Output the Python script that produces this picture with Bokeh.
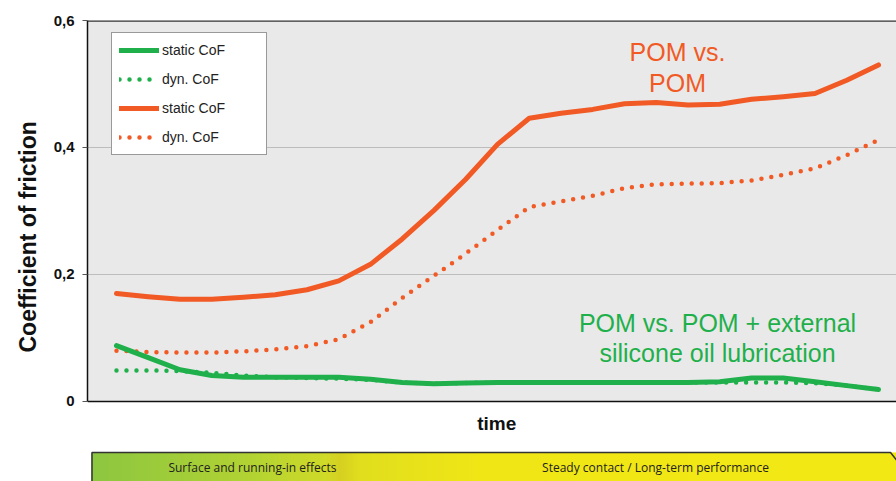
from bokeh.plotting import figure
from bokeh.models import Range1d, FixedTicker, Legend, LegendItem, Span, Label, Title
from bokeh.embed import file_html
from bokeh.resources import INLINE

# ---- data ----
time_points = list(range(25))
pom_static = [0.170, 0.165, 0.161, 0.161, 0.164, 0.168, 0.176, 0.190, 0.216, 0.256,
              0.301, 0.350, 0.405, 0.446, 0.454, 0.460, 0.469, 0.471, 0.467, 0.468,
              0.476, 0.480, 0.485, 0.506, 0.530]
pom_dynamic = [0.080, 0.078, 0.077, 0.077, 0.079, 0.082, 0.087, 0.098, 0.125, 0.163,
               0.198, 0.233, 0.270, 0.306, 0.315, 0.324, 0.336, 0.342, 0.343, 0.344,
               0.348, 0.357, 0.367, 0.388, 0.412]
lub_static = [0.088, 0.069, 0.050, 0.041, 0.038, 0.038, 0.038, 0.038, 0.035, 0.030,
              0.028, 0.029, 0.030, 0.030, 0.030, 0.030, 0.030, 0.030, 0.030, 0.031,
              0.037, 0.037, 0.031, 0.025, 0.019]
lub_dynamic = [0.049, 0.049, 0.048, 0.045, 0.041, 0.038, 0.037, 0.036, 0.034, 0.030,
               0.028, 0.029, 0.030, 0.030, 0.030, 0.030, 0.030, 0.030, 0.030, 0.030,
               0.030, 0.030, 0.029, 0.025, 0.019]
y_ticks = [0, 0.2, 0.4, 0.6]
y_tick_labels = ["0", "0,2", "0,4", "0,6"]
series_labels = ["static CoF", "dyn. CoF", "static CoF", "dyn. CoF"]
pom_label = ["POM vs.", "POM"]
lub_label = ["POM vs. POM + external", "silicone oil lubrication"]
phase_labels = ["Surface and running-in effects", "Steady contact / Long-term performance"]
x_label = "time"
y_label = "Coefficient  of friction"

ORANGE = "#f15a24"
GREEN = "#1fb04b"
FONT = "Liberation Sans"

X0, X1 = -0.913, 24.567
Y0, Y1 = -0.126, 0.6
p = figure(width=896, height=481, output_backend="svg", toolbar_location=None,
           x_range=Range1d(X0, X1), y_range=Range1d(Y0, Y1), x_axis_type=None,
           min_border_left=87, min_border_top=20, min_border_bottom=0, min_border_right=0)
p.background_fill_color = "white"
p.border_fill_color = "white"
p.outline_line_color = None
p.xgrid.grid_line_color = None
p.ygrid.grid_line_color = "#bdbdbd"
p.ygrid.grid_line_width = 1.2
p.ygrid.ticker = FixedTicker(ticks=y_ticks)
p.ygrid.bounds = (0, 0.6)

# grey plotting area (drawn beneath the grid)
p.quad(left=X0, right=X1, bottom=0, top=0.6, fill_color="#e9e9ea", line_color=None,
       level="image")

# y axis
p.yaxis.ticker = FixedTicker(ticks=y_ticks)
p.yaxis.bounds = (0, 0.6)
p.yaxis.major_label_overrides = {t: s for t, s in zip(y_ticks, y_tick_labels)}
p.yaxis.major_label_text_font = FONT
p.yaxis.major_label_text_font_style = "bold"
p.yaxis.major_label_text_font_size = "15px"
p.yaxis.major_label_text_color = "#111111"
p.yaxis.major_label_standoff = 8
p.yaxis.major_tick_out = 5
p.yaxis.major_tick_in = 0
p.yaxis.minor_tick_line_color = None
p.yaxis.axis_line_color = "#111111"
p.yaxis.axis_line_width = 1.5
p.yaxis.major_tick_line_color = "#555555"
p.add_layout(Title(text=y_label, align="left", offset=129, standoff=19,
                   text_font=FONT, text_font_style="bold", text_font_size="23px",
                   text_color="#111111"), "left")

# x axis line, top border, x label
p.add_layout(Span(location=0, dimension="width", line_color="#111111", line_width=1.5))
p.add_layout(Span(location=0.6, dimension="width", line_color="#333333", line_width=2.5))
p.add_layout(Label(x=(X0 + X1) / 2 + 0.15, y=-0.0346, text=x_label, text_align="center",
                   text_baseline="middle", text_font=FONT, text_font_style="bold",
                   text_font_size="19px", text_color="#111111"))

r_ps = p.line(time_points, pom_static, line_color=ORANGE, line_width=5,
              line_cap="round", line_join="round")
r_pd = p.line(time_points, pom_dynamic, line_color=ORANGE, line_width=4.5,
              line_dash="0 10", line_cap="round")
r_ld = p.line(time_points, lub_dynamic, line_color=GREEN, line_width=4.5,
              line_dash="0 10", line_cap="round")
r_ls = p.line(time_points, lub_static, line_color=GREEN, line_width=5,
              line_cap="round", line_join="round")

legend = Legend(items=[LegendItem(label=lbl, renderers=[r]) for lbl, r in
                       zip(series_labels, [r_ls, r_ld, r_ps, r_pd])],
                location=(24, 326), orientation="vertical")
legend.label_text_font = FONT
legend.label_text_font_size = "14px"
legend.label_text_color = "#222222"
legend.glyph_width = 40
legend.glyph_height = 20
legend.label_height = 20
legend.label_width = 97
legend.label_standoff = 3
legend.spacing = 9
legend.padding = 7
legend.margin = 0
legend.border_line_color = "#333333"
legend.border_line_width = 1
legend.background_fill_color = "white"
legend.background_fill_alpha = 1
p.add_layout(legend, "center")

for i, txt in enumerate(pom_label):
    p.add_layout(Label(x=17.67, y=0.550 - 0.048 * i, text=txt, text_align="center",
                       text_baseline="middle", text_font=FONT, text_font_size="25px",
                       text_color=ORANGE))
for i, txt in enumerate(lub_label):
    p.add_layout(Label(x=18.93, y=0.124 - 0.047 * i, text=txt, text_align="center",
                       text_baseline="middle", text_font=FONT, text_font_size="25px",
                       text_color=GREEN))

# ---- bottom phase band (decoration, gradient green -> yellow) ----
PX = 31.75      # pixels per time step
def px2x(px):
    return (px - 116) / PX

band_top = -0.0803
stops = [(91, (140, 198, 64)), (250, (178, 211, 50)), (325, (208, 218, 40)),
         (340, (214, 208, 34)), (360, (224, 222, 30)), (480, (240, 230, 22)),
         (896, (242, 233, 20))]


def col_at(x):
    for (x0, c0), (x1, c1) in zip(stops[:-1], stops[1:]):
        if x0 <= x <= x1:
            f = (x - x0) / (x1 - x0)
            return "#%02x%02x%02x" % tuple(int(round(a + (b - a) * f)) for a, b in zip(c0, c1))
    return "#%02x%02x%02x" % stops[-1][1]


lefts_px = list(range(91, 896, 2))
p.quad(left=[px2x(l) for l in lefts_px], right=[px2x(l + 2.5) for l in lefts_px],
       bottom=Y0, top=band_top, fill_color=[col_at(l + 1) for l in lefts_px],
       line_color=None)
p.line([px2x(91.5), px2x(91.5), px2x(890), px2x(896)],
       [Y0, band_top, band_top, band_top - 0.012], line_color="#333333", line_width=1.5)
for cx, txt in zip([252, 655], phase_labels):
    p.add_layout(Label(x=px2x(cx), y=-0.1039, text=txt, text_align="center",
                       text_baseline="middle", text_font="Open Sans", text_font_size="12px",
                       text_color="#222222"))

open("out.html", "w").write(file_html(p, INLINE))
